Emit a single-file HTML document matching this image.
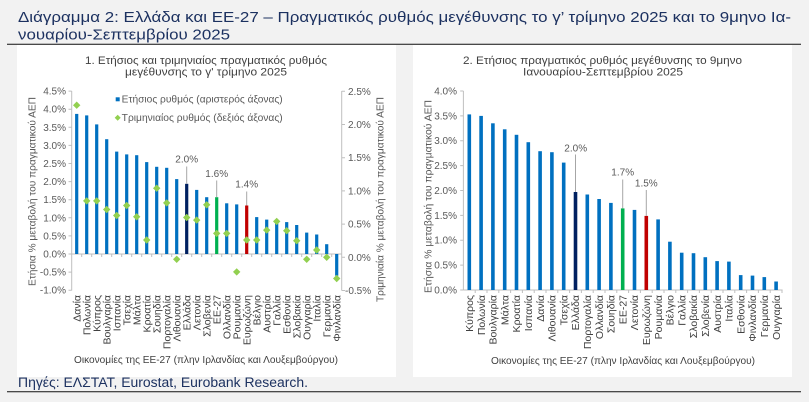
<!DOCTYPE html>
<html><head><meta charset="utf-8"><style>
html,body{margin:0;padding:0;background:#f2f2f2;}
svg{display:block;font-family:"Liberation Sans","DejaVu Sans",sans-serif;}
.t{fill:#595959;font-size:10px;}
.xl{fill:#404040;font-size:10.5px;}
.xt{fill:#404040;font-size:10px;}
.ct{fill:#404040;font-size:11px;}
.b{fill:#0070c0;}
</style></head><body>
<svg width="809" height="402" viewBox="0 0 809 402" xmlns="http://www.w3.org/2000/svg">
<defs><path id="d" d="M0,-3.7 L3.7,0 L0,3.7 L-3.7,0 Z" fill="#92d050"/></defs>
<rect width="809" height="402" fill="#f2f2f2"/>
<text x="18" y="22" font-size="15" fill="#1c3160" textLength="773" lengthAdjust="spacingAndGlyphs">Διάγραμμα 2: Ελλάδα και ΕΕ-27 – Πραγματικός ρυθμός μεγέθυνσης το γ’ τρίμηνο 2025 και το 9μηνο Ια-</text>
<text x="18" y="39.5" font-size="15" fill="#1c3160" textLength="212" lengthAdjust="spacingAndGlyphs">νουαρίου-Σεπτεμβρίου 2025</text>
<line x1="7" y1="44.3" x2="801" y2="44.3" stroke="#111" stroke-width="1"/>
<line x1="7" y1="391.7" x2="801" y2="391.7" stroke="#111" stroke-width="1"/>
<rect x="17" y="45" width="379" height="332" fill="#fff"/>
<rect x="413" y="45" width="379" height="332" fill="#fff"/>
<text x="18" y="387" font-size="13.5" fill="#1c3160" textLength="290" lengthAdjust="spacingAndGlyphs">Πηγές: ΕΛΣΤΑΤ, Eurostat, Eurobank Research.</text>

<!-- LEFT CHART -->
<text class="ct" x="85" y="64" textLength="242" lengthAdjust="spacingAndGlyphs">1. Ετήσιος και τριμηνιαίος πραγματικός ρυθμός</text>
<text class="ct" x="125" y="75.5" textLength="162" lengthAdjust="spacingAndGlyphs">μεγέθυνσης το γ' τρίμηνο 2025</text>
<g stroke="#bfbfbf" stroke-width="1" fill="none">
<line x1="71.7" y1="91" x2="71.7" y2="290.5"/>
<line x1="341.7" y1="91" x2="341.7" y2="290.5"/>
<line x1="71.7" y1="254" x2="341.7" y2="254"/>
<path d="M68.5,91.1H71.7M68.5,109.2H71.7M68.5,127.3H71.7M68.5,145.4H71.7M68.5,163.5H71.7M68.5,181.6H71.7M68.5,199.7H71.7M68.5,217.8H71.7M68.5,235.9H71.7M68.5,254H71.7M68.5,272.1H71.7M68.5,290.2H71.7"/>
<path d="M341.7,91.3H345M341.7,124.5H345M341.7,157.7H345M341.7,190.9H345M341.7,224.1H345M341.7,257.3H345M341.7,290.5H345"/>
<path d="M81.7,254V257M91.7,254V257M101.7,254V257M111.7,254V257M121.7,254V257M131.7,254V257M141.7,254V257M151.7,254V257M161.7,254V257M171.7,254V257M181.7,254V257M191.7,254V257M201.7,254V257M211.7,254V257M221.7,254V257M231.7,254V257M241.7,254V257M251.7,254V257M261.7,254V257M271.7,254V257M281.7,254V257M291.7,254V257M301.7,254V257M311.7,254V257M321.7,254V257M331.7,254V257"/>
</g>
<g class="t" text-anchor="end">
<text x="66" y="94.6">4.5%</text><text x="66" y="112.7">4.0%</text><text x="66" y="130.8">3.5%</text><text x="66" y="148.9">3.0%</text><text x="66" y="167">2.5%</text><text x="66" y="185.1">2.0%</text><text x="66" y="203.2">1.5%</text><text x="66" y="221.3">1.0%</text><text x="66" y="239.4">0.5%</text><text x="66" y="257.5">0.0%</text><text x="66" y="275.6">-0.5%</text><text x="66" y="293.7">-1.0%</text>
</g>
<g class="t">
<text x="348" y="94.8">2.5%</text><text x="348" y="128">2.0%</text><text x="348" y="161.2">1.5%</text><text x="348" y="194.4">1.0%</text><text x="348" y="227.6">0.5%</text><text x="348" y="260.8">0.0%</text><text x="345" y="294">-0.5%</text>
</g>
<text class="t" transform="translate(35.5,191.5) rotate(-90)" text-anchor="middle" textLength="189" lengthAdjust="spacingAndGlyphs">Ετήσια % μεταβολή του πραγματικού ΑΕΠ</text>
<text class="t" transform="translate(383.5,199.5) rotate(-90)" text-anchor="middle" textLength="205" lengthAdjust="spacingAndGlyphs">Τριμηνιαία % μεταβολή του πραγματικού ΑΕΠ</text>
<!-- legend -->
<rect x="115.7" y="97.3" width="4" height="4" fill="#0070c0"/>
<text class="t" x="121.7" y="102.3" font-size="10.5" textLength="161" lengthAdjust="spacingAndGlyphs">Ετήσιος ρυθμός (αριστερός άξονας)</text>
<path d="M117.7,114.7 L120.7,117.7 L117.7,120.7 L114.7,117.7 Z" fill="#92d050"/>
<text class="t" x="121.7" y="121" font-size="10.5" textLength="161" lengthAdjust="spacingAndGlyphs">Τριμηνιαίος ρυθμός (δεξιός άξονας)</text>
<!-- bars -->
<g class="b">
<rect x="75.1" y="113.9" width="3.2" height="140.1"/>
<rect x="85.1" y="115.4" width="3.2" height="138.6"/>
<rect x="95.1" y="124.4" width="3.2" height="129.6"/>
<rect x="105.1" y="139.2" width="3.2" height="114.8"/>
<rect x="115.1" y="151.6" width="3.2" height="102.4"/>
<rect x="125.1" y="154.4" width="3.2" height="99.6"/>
<rect x="135.1" y="155.2" width="3.2" height="98.8"/>
<rect x="145.1" y="162.1" width="3.2" height="91.9"/>
<rect x="155.1" y="166.8" width="3.2" height="87.2"/>
<rect x="165.1" y="167.8" width="3.2" height="86.2"/>
<rect x="175.1" y="179.1" width="3.2" height="74.9"/>
<rect x="185.1" y="183.8" width="3.2" height="70.2" fill="#002060"/>
<rect x="195.1" y="189.9" width="3.2" height="64.1"/>
<rect x="205.1" y="197.2" width="3.2" height="56.8"/>
<rect x="215.1" y="197.2" width="3.2" height="56.8" fill="#00b050"/>
<rect x="225.1" y="203.3" width="3.2" height="50.7"/>
<rect x="235.1" y="204.4" width="3.2" height="49.6"/>
<rect x="245.1" y="205.5" width="3.2" height="48.5" fill="#c00000"/>
<rect x="255.1" y="217.1" width="3.2" height="36.9"/>
<rect x="265.1" y="219.6" width="3.2" height="34.4"/>
<rect x="275.1" y="220.7" width="3.2" height="33.3"/>
<rect x="285.1" y="222.1" width="3.2" height="31.9"/>
<rect x="295.1" y="225.0" width="3.2" height="29.0"/>
<rect x="305.1" y="232.6" width="3.2" height="21.4"/>
<rect x="315.1" y="234.5" width="3.2" height="19.5"/>
<rect x="325.1" y="244.2" width="3.2" height="9.8"/>
<rect x="335.1" y="254" width="3.2" height="21.7"/>
</g>
<!-- diamonds -->
<use href="#d" x="76.7" y="105.2"/><use href="#d" x="86.7" y="200.9"/><use href="#d" x="96.7" y="200.9"/><use href="#d" x="106.7" y="209.5"/><use href="#d" x="116.7" y="215.5"/><use href="#d" x="126.7" y="205.5"/><use href="#d" x="136.7" y="216.8"/><use href="#d" x="146.7" y="240"/><use href="#d" x="156.7" y="188.2"/><use href="#d" x="166.7" y="202.9"/><use href="#d" x="176.7" y="259.3"/><use href="#d" x="186.7" y="217.5"/><use href="#d" x="196.7" y="220.1"/><use href="#d" x="206.7" y="204.8"/><use href="#d" x="216.7" y="233.4"/><use href="#d" x="226.7" y="233.4"/><use href="#d" x="236.7" y="271.9"/><use href="#d" x="246.7" y="240"/><use href="#d" x="256.7" y="240"/><use href="#d" x="266.7" y="230.1"/><use href="#d" x="276.7" y="221.4"/><use href="#d" x="286.7" y="230.7"/><use href="#d" x="296.7" y="240.7"/><use href="#d" x="306.7" y="259.3"/><use href="#d" x="316.7" y="250"/><use href="#d" x="326.7" y="257.3"/><use href="#d" x="336.7" y="278.5"/>
<!-- data labels -->
<g stroke="#a6a6a6" stroke-width="1">
<line x1="186.7" y1="166.5" x2="186.7" y2="183.8"/>
<line x1="216.7" y1="180.5" x2="216.7" y2="197.2"/>
<line x1="246.7" y1="191.5" x2="246.7" y2="205.5"/>
</g>
<g class="t" text-anchor="middle">
<text x="186.7" y="162.3">2.0%</text><text x="216.7" y="177">1.6%</text><text x="246.7" y="187.5">1.4%</text>
</g>
<!-- x labels -->
<g class="xl" text-anchor="end">
<text transform="translate(80.4,295) rotate(-90)">Δανία</text>
<text transform="translate(90.4,295) rotate(-90)">Πολωνία</text>
<text transform="translate(100.4,295) rotate(-90)">Κύπρος</text>
<text transform="translate(110.4,295) rotate(-90)">Βουλγαρία</text>
<text transform="translate(120.4,295) rotate(-90)">Ισπανία</text>
<text transform="translate(130.4,295) rotate(-90)">Τσεχία</text>
<text transform="translate(140.4,295) rotate(-90)">Μάλτα</text>
<text transform="translate(150.4,295) rotate(-90)">Κροατία</text>
<text transform="translate(160.4,295) rotate(-90)">Σουηδία</text>
<text transform="translate(170.4,295) rotate(-90)">Πορτογαλία</text>
<text transform="translate(180.4,295) rotate(-90)">Λιθουανία</text>
<text transform="translate(190.4,295) rotate(-90)">Ελλάδα</text>
<text transform="translate(200.4,295) rotate(-90)">Λετονία</text>
<text transform="translate(210.4,295) rotate(-90)">Σλοβενία</text>
<text transform="translate(220.4,295) rotate(-90)">ΕΕ-27</text>
<text transform="translate(230.4,295) rotate(-90)">Ολλανδία</text>
<text transform="translate(240.4,295) rotate(-90)">Ρουμανία</text>
<text transform="translate(250.4,295) rotate(-90)">Ευρωζώνη</text>
<text transform="translate(260.4,295) rotate(-90)">Βέλγιο</text>
<text transform="translate(270.4,295) rotate(-90)">Αυστρία</text>
<text transform="translate(280.4,295) rotate(-90)">Γαλλία</text>
<text transform="translate(290.4,295) rotate(-90)">Εσθονία</text>
<text transform="translate(300.4,295) rotate(-90)">Σλοβακία</text>
<text transform="translate(310.4,295) rotate(-90)">Ουγγαρία</text>
<text transform="translate(320.4,295) rotate(-90)">Ιταλία</text>
<text transform="translate(330.4,295) rotate(-90)">Γερμανία</text>
<text transform="translate(340.4,295) rotate(-90)">Φινλανδία</text>
</g>
<text class="xt" x="74" y="363" textLength="264" lengthAdjust="spacingAndGlyphs">Οικονομίες της ΕΕ-27 (πλην Ιρλανδίας και Λουξεμβούργου)</text>

<!-- RIGHT CHART -->
<text class="ct" x="463" y="64" textLength="279" lengthAdjust="spacingAndGlyphs">2. Ετήσιος πραγματικός ρυθμός μεγέθυνσης το 9μηνο</text>
<text class="ct" x="523" y="75.5" textLength="160" lengthAdjust="spacingAndGlyphs">Ιανουαρίου-Σεπτεμβρίου 2025</text>
<g stroke="#bfbfbf" stroke-width="1" fill="none">
<line x1="463.4" y1="91" x2="463.4" y2="290"/>
<line x1="463.4" y1="290" x2="782.6" y2="290"/>
<path d="M460.2,91H463.4M460.2,115.9H463.4M460.2,140.75H463.4M460.2,165.6H463.4M460.2,190.5H463.4M460.2,215.4H463.4M460.2,240.25H463.4M460.2,265.1H463.4M460.2,290H463.4"/>
<path d="M475.2,290V293M487,290V293M498.8,290V293M510.6,290V293M522.4,290V293M534.2,290V293M546,290V293M557.8,290V293M569.6,290V293M581.4,290V293M593.2,290V293M605,290V293M616.8,290V293M628.6,290V293M640.4,290V293M652.2,290V293M664,290V293M675.8,290V293M687.6,290V293M699.4,290V293M711.2,290V293M723,290V293M734.8,290V293M746.6,290V293M758.4,290V293M770.2,290V293M782,290V293"/>
</g>
<g class="t" text-anchor="end">
<text x="457" y="94.5">4.0%</text><text x="457" y="119.4">3.5%</text><text x="457" y="144.2">3.0%</text><text x="457" y="169.1">2.5%</text><text x="457" y="194">2.0%</text><text x="457" y="218.9">1.5%</text><text x="457" y="243.7">1.0%</text><text x="457" y="268.6">0.5%</text><text x="457" y="293.5">0.0%</text>
</g>
<text class="t" transform="translate(431.5,196.5) rotate(-90)" text-anchor="middle" textLength="193" lengthAdjust="spacingAndGlyphs">Ετήσια % μεταβολή του πραγματικού ΑΕΠ</text>
<g class="b">
<rect x="467.5" y="114.4" width="3.6" height="175.6"/>
<rect x="479.3" y="115.9" width="3.6" height="174.1"/>
<rect x="491.1" y="123.3" width="3.6" height="166.7"/>
<rect x="502.9" y="129.3" width="3.6" height="160.7"/>
<rect x="514.7" y="134.8" width="3.6" height="155.2"/>
<rect x="526.5" y="142.2" width="3.6" height="147.8"/>
<rect x="538.3" y="151.2" width="3.6" height="138.8"/>
<rect x="550.1" y="152.2" width="3.6" height="137.8"/>
<rect x="561.9" y="162.6" width="3.6" height="127.4"/>
<rect x="573.7" y="192.0" width="3.6" height="98.0" fill="#002060"/>
<rect x="585.5" y="194.5" width="3.6" height="95.5"/>
<rect x="597.3" y="199.0" width="3.6" height="91.0"/>
<rect x="609.1" y="202.9" width="3.6" height="87.1"/>
<rect x="620.9" y="208.4" width="3.6" height="81.6" fill="#00b050"/>
<rect x="632.7" y="209.9" width="3.6" height="80.1"/>
<rect x="644.5" y="215.9" width="3.6" height="74.1" fill="#c00000"/>
<rect x="656.3" y="219.4" width="3.6" height="70.6"/>
<rect x="668.1" y="241.7" width="3.6" height="48.3"/>
<rect x="679.9" y="252.7" width="3.6" height="37.3"/>
<rect x="691.7" y="253.2" width="3.6" height="36.8"/>
<rect x="703.5" y="257.2" width="3.6" height="32.8"/>
<rect x="715.3" y="261.1" width="3.6" height="28.9"/>
<rect x="727.1" y="261.6" width="3.6" height="28.4"/>
<rect x="738.9" y="275.1" width="3.6" height="14.9"/>
<rect x="750.7" y="275.6" width="3.6" height="14.4"/>
<rect x="762.5" y="277.1" width="3.6" height="12.9"/>
<rect x="774.3" y="281.5" width="3.6" height="8.5"/>
</g>
<g stroke="#a6a6a6" stroke-width="1">
<line x1="575.5" y1="154.5" x2="575.5" y2="192"/>
<line x1="622.7" y1="179.5" x2="622.7" y2="208.4"/>
<line x1="646.3" y1="190" x2="646.3" y2="215.9"/>
</g>
<g class="t" text-anchor="middle">
<text x="575.7" y="151.7">2.0%</text><text x="622.7" y="175.7">1.7%</text><text x="646.3" y="186.7">1.5%</text>
</g>
<g class="xl" text-anchor="end">
<text transform="translate(473,295) rotate(-90)">Κύπρος</text>
<text transform="translate(484.8,295) rotate(-90)">Πολωνία</text>
<text transform="translate(496.6,295) rotate(-90)">Βουλγαρία</text>
<text transform="translate(508.4,295) rotate(-90)">Μάλτα</text>
<text transform="translate(520.2,295) rotate(-90)">Κροατία</text>
<text transform="translate(532,295) rotate(-90)">Ισπανία</text>
<text transform="translate(543.8,295) rotate(-90)">Δανία</text>
<text transform="translate(555.6,295) rotate(-90)">Λιθουανία</text>
<text transform="translate(567.4,295) rotate(-90)">Τσεχία</text>
<text transform="translate(579.2,295) rotate(-90)">Ελλάδα</text>
<text transform="translate(591,295) rotate(-90)">Πορτογαλία</text>
<text transform="translate(602.8,295) rotate(-90)">Ολλανδία</text>
<text transform="translate(614.6,295) rotate(-90)">Σουηδία</text>
<text transform="translate(626.4,295) rotate(-90)">ΕΕ-27</text>
<text transform="translate(638.2,295) rotate(-90)">Λετονία</text>
<text transform="translate(650,295) rotate(-90)">Ευρωζώνη</text>
<text transform="translate(661.8,295) rotate(-90)">Ρουμανία</text>
<text transform="translate(673.6,295) rotate(-90)">Βέλγιο</text>
<text transform="translate(685.4,295) rotate(-90)">Γαλλία</text>
<text transform="translate(697.2,295) rotate(-90)">Σλοβακία</text>
<text transform="translate(709,295) rotate(-90)">Σλοβενία</text>
<text transform="translate(720.8,295) rotate(-90)">Αυστρία</text>
<text transform="translate(732.6,295) rotate(-90)">Ιταλία</text>
<text transform="translate(744.4,295) rotate(-90)">Εσθονία</text>
<text transform="translate(756.2,295) rotate(-90)">Φινλανδία</text>
<text transform="translate(768,295) rotate(-90)">Γερμανία</text>
<text transform="translate(779.8,295) rotate(-90)">Ουγγαρία</text>
</g>
<text class="xt" x="491" y="364" textLength="264" lengthAdjust="spacingAndGlyphs">Οικονομίες της ΕΕ-27 (πλην Ιρλανδίας και Λουξεμβούργου)</text>
</svg>
</body></html>
